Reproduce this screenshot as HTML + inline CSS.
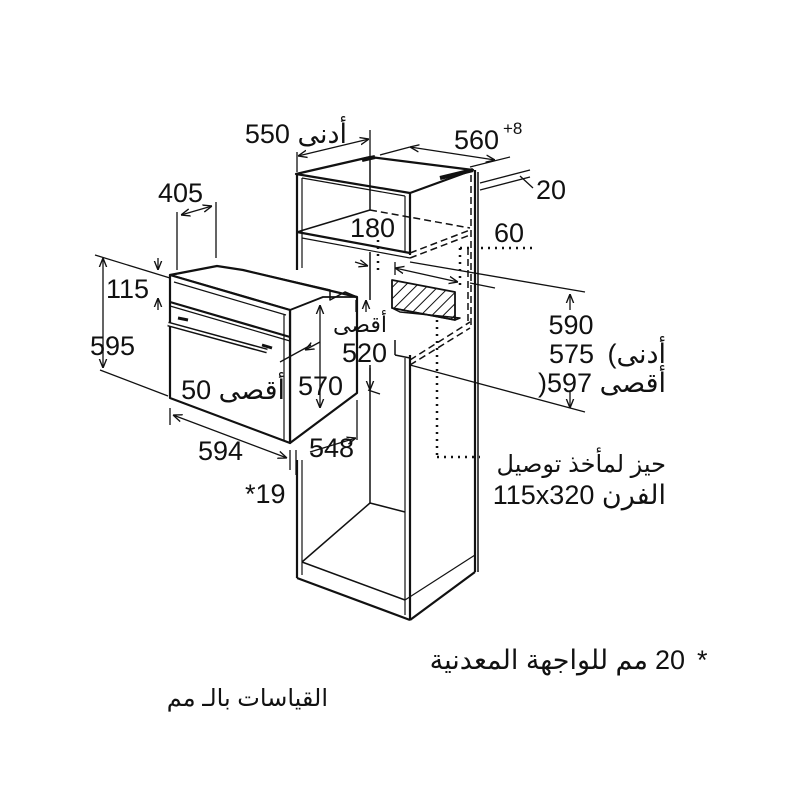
<!DOCTYPE html>
<html><head><meta charset="utf-8"><style>
html,body{margin:0;padding:0;background:#fff}
svg{display:block}
text{font-family:"Liberation Sans","DejaVu Sans",sans-serif;fill:#111}
</style></head><body>
<svg width="800" height="800" viewBox="0 0 800 800" xmlns="http://www.w3.org/2000/svg">
<defs>
<marker id="a" viewBox="0 0 10 10" refX="10" refY="5" markerWidth="7" markerHeight="7" orient="auto-start-reverse"><path d="M0,1 L10,5 L0,9" fill="none" stroke="#111" stroke-width="1.5"/></marker>
<pattern id="h" width="8" height="8" patternUnits="userSpaceOnUse" patternTransform="rotate(45)"><line x1="0" y1="0" x2="0" y2="8" stroke="#111" stroke-width="2"/></pattern>
</defs>
<g fill="none" stroke="#111" stroke-width="2.2" stroke-linejoin="round">
<polygon points="296,174 370,157 473,170 410,193" fill="#fff"/>
<line x1="362" y1="160" x2="375" y2="157" stroke-width="4"/>
<line x1="440" y1="178" x2="473" y2="170" stroke-width="4"/>
<line x1="297" y1="174" x2="297" y2="270"/>
<line x1="302" y1="178" x2="302" y2="268" stroke-width="1.2"/>
<line x1="410" y1="193" x2="410" y2="255"/>
<line x1="405" y1="196" x2="405" y2="252" stroke-width="1.2"/>
<line x1="302" y1="178" x2="405" y2="196" stroke-width="1.2"/>
<line x1="475" y1="170" x2="475" y2="572"/>
<line x1="478" y1="172" x2="478" y2="572" stroke-width="1.5"/>
<line x1="370" y1="160" x2="370" y2="210" stroke-width="1.5"/>
<line x1="297" y1="232" x2="410" y2="253"/>
<line x1="302" y1="238" x2="410" y2="258" stroke-width="1.2"/>
<line x1="297" y1="232" x2="370" y2="210" stroke-width="1.5"/>
<line x1="370" y1="210" x2="470" y2="228" stroke-width="1.5" stroke-dasharray="7,4"/>
<line x1="410" y1="253" x2="470" y2="230" stroke-width="1.5" stroke-dasharray="7,4"/>
<line x1="410" y1="258" x2="470" y2="235" stroke-width="1.5" stroke-dasharray="7,4"/>
<line x1="471" y1="175" x2="471" y2="325" stroke-width="1.5" stroke-dasharray="7,4"/>
<line x1="468" y1="248" x2="468" y2="325" stroke-width="1.5" stroke-dasharray="7,4"/>
<line x1="410" y1="360" x2="470" y2="322" stroke-width="1.5" stroke-dasharray="7,4"/>
<line x1="410" y1="365" x2="470" y2="328" stroke-width="1.5" stroke-dasharray="7,4"/>
<line x1="370" y1="252" x2="370" y2="300" stroke-width="1.5"/>
<line x1="370" y1="365" x2="370" y2="503" stroke-width="1.5"/>
<line x1="297" y1="460" x2="297" y2="578"/>
<line x1="302" y1="460" x2="302" y2="575" stroke-width="1.2"/>
<line x1="410" y1="355" x2="410" y2="620"/>
<line x1="405" y1="358" x2="405" y2="615" stroke-width="1.2"/>
<line x1="395" y1="355" x2="410" y2="358" stroke-width="1.5"/>
<line x1="395" y1="340" x2="395" y2="355" stroke-width="1.5"/>
<line x1="302" y1="562" x2="370" y2="503" stroke-width="1.5"/>
<line x1="370" y1="503" x2="405" y2="512" stroke-width="1.5"/>
<line x1="302" y1="562" x2="405" y2="600" stroke-width="1.5"/>
<line x1="297" y1="578" x2="410" y2="620"/>
<line x1="410" y1="620" x2="475" y2="572"/>
<line x1="405" y1="600" x2="475" y2="555" stroke-width="1.2"/>
<polygon points="392,280 455,292 455,320 392,308" fill="url(#h)" stroke-width="1.8"/>
<polygon points="392,308 455,320 460,318 400,312" stroke-width="1.5"/>
<polygon points="170,275 217,266 243,270 357,297 357,393 290,443 290,310" fill="#fff"/>
<polyline points="290,310 323,297 357,297" stroke-width="1.8"/>
<polyline points="243,270 330,290 330,300 345,292 357,297" stroke-width="1.5"/>
<polygon points="170,275 290,310 290,443 170,398" fill="#fff"/>
<line x1="174" y1="282" x2="286" y2="315" stroke-width="1.2"/>
<line x1="170" y1="302" x2="290" y2="337"/>
<line x1="170" y1="306" x2="290" y2="341" stroke-width="1.2"/>
<line x1="284" y1="315" x2="284" y2="440" stroke-width="1.2"/>
<line x1="168" y1="324" x2="267" y2="351" stroke-width="5"/>
<line x1="168" y1="324" x2="267" y2="351" stroke="#fff" stroke-width="2"/>
<line x1="178" y1="318" x2="188" y2="320" stroke-width="3"/>
<line x1="262" y1="345" x2="272" y2="348" stroke-width="3"/>
</g>
<g fill="none" stroke="#111" stroke-width="2.5" stroke-dasharray="2,5">
<line x1="378" y1="240" x2="378" y2="270"/>
<line x1="460" y1="248" x2="532" y2="248"/>
<line x1="460" y1="248" x2="460" y2="290"/>
<line x1="437" y1="320" x2="437" y2="457"/>
<line x1="437" y1="457" x2="480" y2="457"/>
</g>
<g fill="none" stroke="#111" stroke-width="1.3">
<line x1="297" y1="152" x2="297" y2="172"/><line x1="370" y1="130" x2="370" y2="158"/>
<line x1="298" y1="156" x2="369" y2="139" marker-start="url(#a)" marker-end="url(#a)"/>
<line x1="380" y1="155" x2="410" y2="147"/><line x1="410" y1="147" x2="495" y2="160" marker-start="url(#a)" marker-end="url(#a)"/>
<line x1="470" y1="167" x2="510" y2="157"/>
<line x1="480" y1="183" x2="530" y2="170"/><line x1="480" y1="190" x2="530" y2="177"/><line x1="520" y1="176" x2="533" y2="188"/>
<line x1="177" y1="212" x2="177" y2="270"/><line x1="216" y1="202" x2="216" y2="258"/>
<line x1="181" y1="215" x2="212" y2="206" marker-start="url(#a)" marker-end="url(#a)"/>
<line x1="95" y1="255" x2="170" y2="278"/><line x1="100" y1="370" x2="168" y2="396"/>
<line x1="103" y1="258" x2="103" y2="368" marker-start="url(#a)" marker-end="url(#a)"/>
<line x1="158" y1="258" x2="158" y2="270" marker-end="url(#a)"/><line x1="158" y1="310" x2="158" y2="298" marker-end="url(#a)"/>
<line x1="170" y1="408" x2="170" y2="425"/><line x1="290" y1="450" x2="290" y2="470"/>
<line x1="173" y1="415" x2="287" y2="458" marker-start="url(#a)" marker-end="url(#a)"/>
<line x1="296" y1="450" x2="296" y2="475"/>
<line x1="280" y1="362" x2="311" y2="345"/><line x1="305" y1="350" x2="320" y2="342" marker-start="url(#a)"/>
<line x1="320" y1="305" x2="320" y2="408" marker-start="url(#a)" marker-end="url(#a)"/>
<line x1="357" y1="400" x2="357" y2="440"/><line x1="310" y1="452" x2="356" y2="438" marker-end="url(#a)"/>
<line x1="370" y1="368" x2="370" y2="390" marker-end="url(#a)"/><line x1="368" y1="390" x2="380" y2="394"/>
<line x1="366" y1="300" x2="366" y2="312" marker-start="url(#a)"/><line x1="356" y1="300" x2="356" y2="312"/>
<line x1="355" y1="262" x2="368" y2="266" marker-end="url(#a)"/>
<line x1="395" y1="268" x2="458" y2="282" marker-start="url(#a)" marker-end="url(#a)"/>
<line x1="395" y1="262" x2="395" y2="275"/>
<line x1="410" y1="262" x2="585" y2="292"/><line x1="410" y1="365" x2="585" y2="412"/>
<line x1="570" y1="310" x2="570" y2="294" marker-end="url(#a)"/><line x1="570" y1="392" x2="570" y2="408" marker-end="url(#a)"/>
<line x1="470" y1="283" x2="495" y2="288"/>
</g>
<g font-size="27">
<text x="347" y="143" text-anchor="end">550 أدنى</text>
<text x="454" y="149">560</text><text x="503" y="134" font-size="17">+8</text>
<text x="536" y="199">20</text>
<text x="158" y="202">405</text>
<text x="350" y="237">180</text>
<text x="494" y="242">60</text>
<text x="106" y="298">115</text>
<text x="90" y="355">595</text>
<text x="571" y="334" text-anchor="middle">590</text>
<text x="549" y="363">575</text>
<text x="666" y="363" text-anchor="end">(أدنى</text>
<text x="538" y="392">)597</text>
<text x="666" y="392" text-anchor="end">أقصى</text>
<text x="342" y="362">520</text>
<text x="360" y="332" text-anchor="middle" font-size="22">أقصى</text>
<text x="285" y="399" text-anchor="end">50 أقصى</text>
<text x="298" y="395">570</text>
<text x="198" y="460">594</text>
<text x="309" y="457">548</text>
<text x="245" y="503">*19</text>
<text x="666" y="472" text-anchor="end" font-size="24">حيز لمأخذ توصيل</text>
<text x="666" y="504" text-anchor="end">115x320 الفرن</text>
<text x="648" y="669" text-anchor="end">مم للواجهة المعدنية</text>
<text x="655" y="669">20</text>
<text x="697" y="669">*</text>
<text x="328" y="706" text-anchor="end" font-size="24">القياسات بالـ مم</text>
</g>
</svg>
</body></html>
